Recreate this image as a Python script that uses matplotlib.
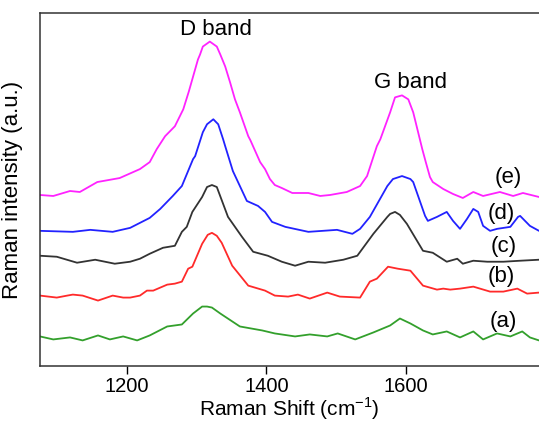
import matplotlib.pyplot as plt

plt.rcParams['font.family'] = ['Liberation Sans', 'DejaVu Sans']
plt.rcParams['mathtext.fontset'] = 'custom'
plt.rcParams['mathtext.rm'] = 'Liberation Sans'

# Raman spectra of samples (a)-(e), vertically offset, intensity in a.u.
shift_a = [1076, 1095, 1119, 1137, 1159, 1176, 1195, 1215, 1233, 1258, 1279, 1295, 1308, 1315,
           1322, 1334, 1362, 1394, 1412, 1441, 1462, 1487, 1502, 1527, 1553, 1577, 1591, 1606,
           1624, 1638, 1658, 1677, 1696, 1710, 1730, 1749, 1766, 1777, 1790]
int_a = [30, 27, 29, 26, 31, 27, 30, 26, 31, 40, 42, 53, 60, 60,
         59, 53, 40, 36, 33, 30, 32, 30, 33, 27, 34, 41, 48, 43,
         36, 32, 35, 29, 35, 27, 33, 30, 35, 29, 26]

shift_b = [1076, 1100, 1115, 1123, 1137, 1159, 1180, 1195, 1205, 1219, 1229, 1238, 1258, 1269,
           1279, 1288, 1294, 1308, 1316, 1322, 1329, 1336, 1351, 1374, 1398, 1412, 1431, 1445,
           1462, 1487, 1505, 1534, 1548, 1558, 1574, 1588, 1606, 1624, 1644, 1653, 1663, 1677,
           1696, 1720, 1739, 1759, 1773, 1790]
int_b = [71, 69, 71, 72, 71, 66, 71, 69, 69, 71, 76, 76, 82, 83,
         85, 98, 100, 123, 132, 134, 131, 124, 101, 81, 76, 71, 70, 72,
         68, 74, 70, 69, 85, 88, 100, 98, 96, 81, 77, 78, 77, 78,
         80, 75, 75, 78, 73, 74]

shift_c = [1076, 1100, 1129, 1155, 1162, 1183, 1205, 1219, 1233, 1252, 1269, 1279, 1286, 1294,
           1308, 1315, 1322, 1329, 1345, 1365, 1381, 1402, 1422, 1441, 1460, 1484, 1510, 1530,
           1553, 1573, 1577, 1584, 1591, 1601, 1624, 1638, 1658, 1673, 1681, 1696, 1716, 1739,
           1763, 1790]
int_c = [111, 110, 104, 107, 106, 103, 105, 108, 113, 119, 121, 135, 140, 155,
         170, 180, 182, 180, 150, 130, 115, 111, 105, 101, 105, 104, 107, 111,
         133, 150, 153, 155, 152, 143, 116, 114, 105, 108, 103, 106, 105, 105,
         106, 107]

shift_d = [1076, 1123, 1148, 1180, 1205, 1233, 1248, 1266, 1279, 1295, 1298, 1309, 1315, 1324,
           1331, 1338, 1341, 1352, 1362, 1372, 1388, 1398, 1408, 1427, 1460, 1501, 1523, 1534,
           1548, 1573, 1581, 1594, 1606, 1610, 1627, 1631, 1644, 1658, 1667, 1677, 1687, 1696,
           1703, 1710, 1720, 1730, 1749, 1760, 1763, 1777, 1790]
int_d = [136, 135, 137, 135, 139, 149, 158, 171, 181, 208, 211, 235, 243, 248,
         243, 228, 221, 196, 181, 166, 161, 155, 145, 140, 135, 137, 133, 138,
         150, 181, 188, 191, 188, 185, 151, 146, 150, 155, 146, 138, 148, 158,
         155, 141, 136, 138, 140, 150, 151, 141, 136]

shift_e = [1076, 1095, 1119, 1133, 1158, 1190, 1219, 1233, 1243, 1255, 1269, 1281, 1289, 1302,
           1305, 1309, 1319, 1329, 1334, 1341, 1348, 1355, 1362, 1374, 1377, 1391, 1398, 1405,
           1412, 1422, 1437, 1460, 1477, 1491, 1515, 1534, 1544, 1558, 1563, 1577, 1584, 1594,
           1603, 1610, 1623, 1628, 1634, 1638, 1653, 1667, 1681, 1696, 1710, 1734, 1753, 1767,
           1790]
int_e = [172, 171, 176, 175, 185, 189, 198, 205, 218, 231, 241, 258, 276, 308,
         313, 321, 326, 321, 313, 301, 285, 268, 255, 231, 227, 205, 198, 188,
         182, 179, 174, 174, 171, 172, 175, 181, 191, 221, 228, 255, 270, 272,
         268, 255, 218, 205, 190, 185, 178, 173, 169, 175, 171, 175, 171, 174,
         170]

fig = plt.figure(figsize=(5.39, 4.23), dpi=100)
ax = fig.add_axes([0.0742, 0.134, 0.9258, 0.836])

line_kw = dict(lw=1.3, solid_joinstyle='round', solid_capstyle='round')
ax.plot(shift_a, int_a, color='#33a02c', **line_kw)
ax.plot(shift_b, int_b, color='#ff2a2a', **line_kw)
ax.plot(shift_c, int_c, color='#333333', **line_kw)
ax.plot(shift_d, int_d, color='#2222ff', **line_kw)
ax.plot(shift_e, int_e, color='#ff22ff', **line_kw)

ax.text(1328, 338, 'D band', fontsize=16, ha='center', va='center')
ax.text(1606, 285, 'G band', fontsize=16, ha='center', va='center')
for lab, xx, yy in [('(e)', 1746, 190), ('(d)', 1736, 153), ('(c)', 1739, 120),
                    ('(b)', 1736, 90), ('(a)', 1739, 45)]:
    ax.text(xx, yy, lab, fontsize=16, ha='center', va='center')

ax.set_xlim(1076, 1790)
ax.set_ylim(0, 355)
ax.set_xticks([1200, 1400, 1600])
ax.set_yticks([])
ax.tick_params(axis='x', direction='out', length=6, width=1, labelsize=14.5, pad=2)
ax.spines['right'].set_visible(False)
for s in ['left', 'top', 'bottom']:
    ax.spines[s].set_color('#333333')
    ax.spines[s].set_linewidth(1.1)

ax.set_xlabel('Raman Shift (cm$^{-1}$)', fontsize=15, labelpad=-1)
ax.set_ylabel('Raman intensity (a.u.)', fontsize=16, labelpad=12)

fig.savefig('out.png', dpi=100)
